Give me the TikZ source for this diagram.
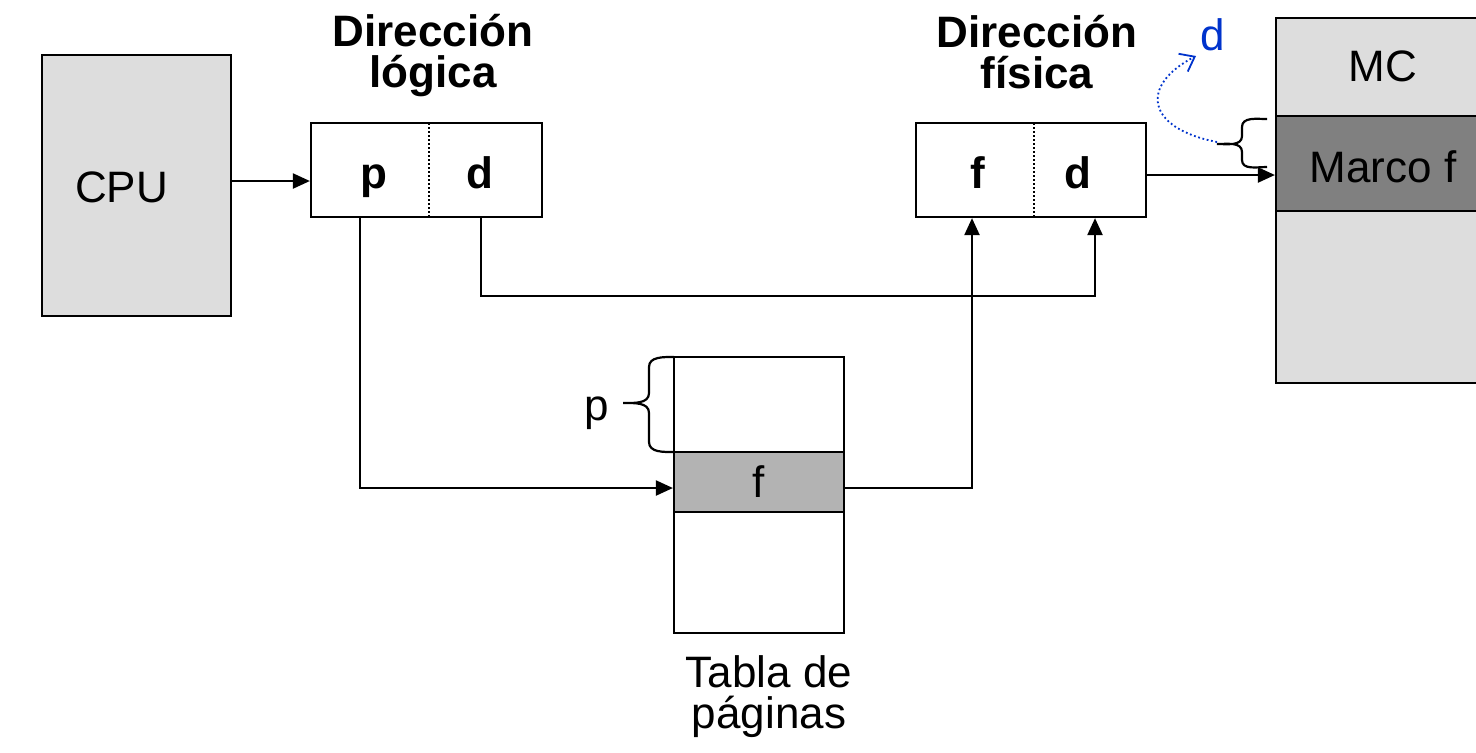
\documentclass[tikz,border=0pt]{standalone}
\usepackage{fontspec}
\setmainfont{Liberation Sans}
\usetikzlibrary{arrows.meta,positioning}
\definecolor{lg}{HTML}{DDDDDD}
\definecolor{dg}{HTML}{808080}
\definecolor{mg}{HTML}{B3B3B3}
\definecolor{bl}{HTML}{0033CC}
\tikzset{
  box/.style={draw, line width=1.1pt, inner sep=0pt, anchor=center},
  txt/.style={inner sep=0pt, anchor=base, font=\fontsize{22}{20.5}\selectfont},
  btxt/.style={inner sep=0pt, anchor=base, font=\bfseries\fontsize{22}{20.5}\selectfont},
  arr/.style={line width=1.1pt, -{Triangle[length=8.5pt,width=7.5pt]}},
  divider/.style={line width=0.9pt, dash pattern=on 0.9pt off 1.1pt},
  brc/.style={line width=1.1pt},
}
\begin{document}
\begin{tikzpicture}[x=0.5pt,y=-0.5pt]
\useasboundingbox (0,0) rectangle (1476,752);
\clip (0,0) rectangle (1476,752);
% CPU
\node[box, fill=lg, minimum width=94.5pt, minimum height=130.5pt] (cpu) at (136.5,185.5) {};
\node[txt] (cputxt) at (121.5,202) {CPU};
% logical address
\node[box, minimum width=115.5pt, minimum height=47pt] (la) at (426.5,170) {};
\draw[divider] (429,123) -- (429,217);
\node[btxt] (lap) at (374,188) {p};
\node[btxt] (lad) at (480,188) {d};
\node[btxt] (lalab1) at (433,46) {Dirección};
\node[btxt] (lalab2) at (433,87) {lógica};
% physical address
\node[box, minimum width=115pt, minimum height=47pt] (pa) at (1031,170) {};
\draw[divider] (1034,123) -- (1034,217);
\node[btxt] (paf) at (978,188) {f};
\node[btxt] (pad) at (1078,188) {d};
\node[btxt] (palab1) at (1037,47) {Dirección};
\node[btxt] (palab2) at (1037,88) {física};
% memory
\node[box, fill=lg, minimum width=107pt, minimum height=49pt] (mctop) at (1383,67) {};
\node[box, fill=dg, minimum width=107pt, minimum height=47.5pt] (marco) at (1383,163.5) {};
\node[box, fill=lg, minimum width=107pt, minimum height=86pt] (mcbot) at (1383,297) {};
\node[txt] (mctxt) at (1383,81) {MC};
\node[txt] (marcotxt) at (1383,182) {Marco f};
% page table
\node[box, minimum width=85pt, minimum height=47.5pt] (pttop) at (759,404.5) {};
\node[box, fill=mg, minimum width=85pt, minimum height=30pt] (ptf) at (759,482) {};
\node[box, minimum width=85pt, minimum height=60.5pt] (ptbot) at (759,572.5) {};
\node[txt] (ptftxt) at (759,497) {f};
\node[txt] (ptlab1) at (769,687) {Tabla de};
\node[txt] (ptlab2) at (769,728) {páginas};
\node[txt] (ptp) at (597,420) {p};
% braces
\draw[brc] (674,357) to[out=180,in=90] (649,367) -- (649,393) to[out=270,in=0] (623,403)
  to[out=0,in=90] (649,413) -- (649,442) to[out=270,in=180] (674,452);
\draw[brc] (1267,119) to[out=180,in=90] (1242,127) -- (1242,136) to[out=270,in=0] (1217,144)
  to[out=0,in=90] (1242,152) -- (1242,160) to[out=270,in=180] (1267,167);
% blue annotation
\node[txt] (bd) at (1213,50) {\textcolor{bl}{d}};
\draw[bl, line width=0.9pt, dash pattern=on 0.9pt off 1.3pt, -{Straight Barb[length=6.5pt,width=10pt,line width=0.9pt]}]
  (1217,142) .. controls (1145,128) and (1140,85) .. (1196,56);
% connectors
\draw[arr] (cpu.east |- 0,181) -- (la.west |- 0,181);
\draw[arr] (pa.east |- 0,175) -- (marco.west |- 0,175);
\draw[arr] (la.south -| 360,0) -- (360,488) -- (ptf.west |- 0,488);
\draw[arr] (la.south -| 481,0) -- (481,296) -- (1095,296) -- (pa.south -| 1095,0);
\draw[arr] (ptf.east |- 0,488) -- (972,488) -- (pa.south -| 972,0);
\end{tikzpicture}
\end{document}
